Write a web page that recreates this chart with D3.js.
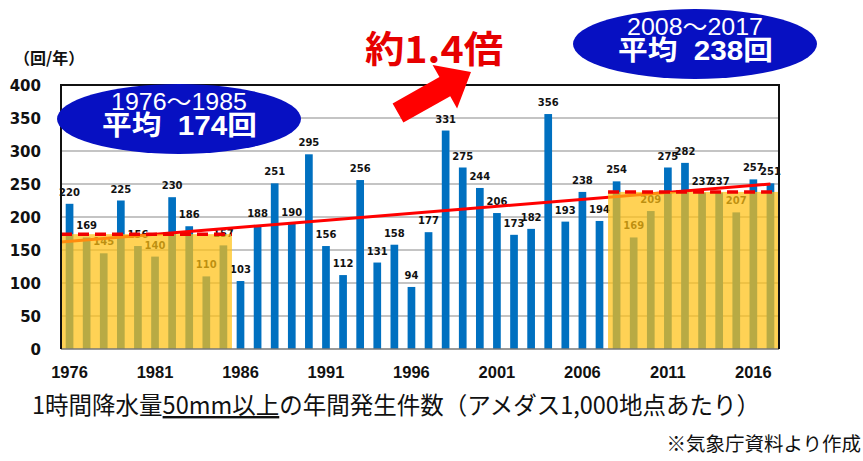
<!DOCTYPE html>
<html><head><meta charset="utf-8">
<script src="https://cdn.jsdelivr.net/npm/d3@7"></script>
<style>html,body{margin:0;padding:0;background:#fff;}svg{display:block;}</style>
</head><body>
<svg id="c" width="863" height="461"></svg>
<script>
// ---- data ----
const years = d3.range(1976, 2018).map(String);
const counts = [220,169,145,225,156,140,230,186,110,157,
  103,188,251,190,295,156,112,256,131,158,94,177,331,275,244,206,173,182,356,193,238,194,
  254,169,209,275,282,237,237,207,257,251];
const yTicks = [0,50,100,150,200,250,300,350,400];
const xTickLabels = ["1976","1981","1986","1991","1996","2001","2006","2011","2016"];
const periods = [
  {from:"1976", to:"1985", avg:174, label1:"1976～1985", label2:"平均\u00a0\u00a0174回"},
  {from:"2008", to:"2017", avg:238, label1:"2008～2017", label2:"平均\u00a0\u00a0238回"}
];
const trendEnds = [162, 250]; // trend value at plot left edge and at 2017
const unitLabel = "（回/年）";
const ratioLabel = "約1.4倍";
const captionParts = ["1時間降水量", "50mm以上", "の年間発生件数（アメダス1,000地点あたり）"];
const sourceLabel = "※気象庁資料より作成";

// ---- layout ----
const L = 61, R = 779, T = 85, B = 349;
const svg = d3.select("#c");
const x = d3.scaleBand().domain(years).range([L, R]).paddingInner(0.55).paddingOuter(0.275);
const y = d3.scaleLinear().domain([0, 400]).range([B, T]);
const step = x.step();
const bandStart = yr => x(yr) - x.paddingInner()*step/2;

// grid
svg.append("g").selectAll("line").data(yTicks.filter(d => d > 0 && d < 400)).join("line")
  .attr("x1", L).attr("x2", R).attr("y1", d => y(d)).attr("y2", d => y(d))
  .attr("stroke", "#8a8a8a").attr("stroke-width", 1.2);

// y tick labels
svg.append("g").selectAll("text").data(yTicks).join("text")
  .attr("x", 41).attr("y", d => y(d) + 5.5).attr("text-anchor", "end")
  .attr("font-family", "DejaVu Sans").attr("font-weight", "bold").attr("font-size", 15)
  .attr("fill", "#111").text(d => d);

// bars
svg.append("g").selectAll("rect").data(counts).join("rect")
  .attr("x", (d, i) => x(years[i])).attr("width", x.bandwidth())
  .attr("y", d => y(d)).attr("height", d => B - y(d)).attr("fill", "#0070c0");

// bar value labels
svg.append("g").selectAll("text").data(counts).join("text")
  .attr("x", (d, i) => x(years[i]) + x.bandwidth()/2).attr("y", d => y(d) - 8)
  .attr("text-anchor", "middle").attr("font-family", "DejaVu Sans").attr("font-weight", "bold")
  .attr("font-size", 10).attr("fill", "#111").text(d => d);

// trend line
const xEnd = x("2017") + x.bandwidth()/2;
svg.append("line").attr("x1", L).attr("y1", y(trendEnds[0]))
  .attr("x2", xEnd).attr("y2", y(trendEnds[1]))
  .attr("stroke", "#ff0000").attr("stroke-width", 3);

// yellow overlays
periods.forEach(p => {
  const x0 = Math.max(L, bandStart(p.from));
  const x1 = Math.min(R, bandStart(p.to) + step);
  svg.append("rect").attr("x", x0).attr("y", y(p.avg)).attr("width", x1 - x0).attr("height", B - y(p.avg))
    .attr("fill", "rgb(255,193,20)").attr("opacity", 0.72);
  svg.append("line").attr("x1", x0).attr("x2", x1).attr("y1", y(p.avg)).attr("y2", y(p.avg))
    .attr("stroke", "#f00000").attr("stroke-width", 3.5).attr("stroke-dasharray", "11,6");
});

// frame
svg.append("line").attr("x1", L).attr("x2", R).attr("y1", B).attr("y2", B).attr("stroke", "#777").attr("stroke-width", 1.5);
svg.append("path").attr("d", `M${L},${B} V${T} H${R} V${B}`).attr("fill", "none")
  .attr("stroke", "#111").attr("stroke-width", 2);

// x tick labels
svg.append("g").selectAll("text").data(xTickLabels).join("text")
  .attr("x", d => x(d) + x.bandwidth()/2).attr("y", 378).attr("text-anchor", "middle")
  .attr("font-family", "Liberation Sans").attr("font-weight", "bold").attr("font-size", 16.5)
  .attr("fill", "#111").text(d => d);

// unit label
svg.append("text").attr("x", 14).attr("y", 64).attr("font-family", "Noto Sans CJK JP")
  .attr("font-weight", "bold").attr("font-size", 16).attr("fill", "#111").text(unitLabel);

// ellipses
const ell = [{cx:179, cy:119, p:periods[0]}, {cx:695, cy:44, p:periods[1]}];
ell.forEach(e => {
  svg.append("ellipse").attr("cx", e.cx).attr("cy", e.cy).attr("rx", 122).attr("ry", 35)
    .attr("fill", "#0710c2");
  svg.append("text").attr("x", e.cx - 68).attr("y", e.cy - 9)
    .attr("textLength", 136).attr("lengthAdjust", "spacingAndGlyphs")
    .attr("font-family", "Liberation Sans, Noto Sans CJK JP").attr("font-size", 23).attr("fill", "#fff")
    .text(e.p.label1);
  svg.append("text").attr("x", e.cx - 77).attr("y", e.cy + 16)
    .attr("textLength", 155).attr("lengthAdjust", "spacingAndGlyphs")
    .attr("font-family", "Liberation Sans, Noto Sans CJK JP").attr("font-weight", "bold")
    .attr("font-size", 27).attr("fill", "#fff").text(e.p.label2);
});

// ratio label
svg.append("text").attr("x", 365).attr("y", 63).attr("textLength", 138).attr("lengthAdjust", "spacingAndGlyphs")
  .attr("font-family", "Noto Sans CJK JP").attr("font-weight", "bold").attr("font-size", 37)
  .attr("fill", "#e60000").text(ratioLabel);

// arrow
const ax0 = 398, ay0 = 113, ax1 = 471, ay1 = 72;
const ang = Math.atan2(ay1 - ay0, ax1 - ax0) * 180 / Math.PI;
const len = Math.hypot(ax1 - ax0, ay1 - ay0);
svg.append("path")
  .attr("transform", `translate(${ax0},${ay0}) rotate(${ang})`)
  .attr("d", `M0,-11 H${len-30} V-25 L${len},0 L${len-30},25 V11 H0 Z`)
  .attr("fill", "#ff0000");

// caption
const cap = svg.append("text").attr("x", 32).attr("y", 414).attr("textLength", 728)
  .attr("lengthAdjust", "spacingAndGlyphs")
  .attr("font-family", "Noto Sans CJK JP").attr("font-size", 24).attr("fill", "#111");
cap.append("tspan").text(captionParts[0]);
cap.append("tspan").attr("text-decoration", "underline").text(captionParts[1]);
cap.append("tspan").text(captionParts[2]);

svg.append("text").attr("x", 861).attr("y", 451).attr("text-anchor", "end")
  .attr("font-family", "Noto Sans CJK JP").attr("font-size", 19.5).attr("fill", "#111").text(sourceLabel);
</script>
</body></html>
